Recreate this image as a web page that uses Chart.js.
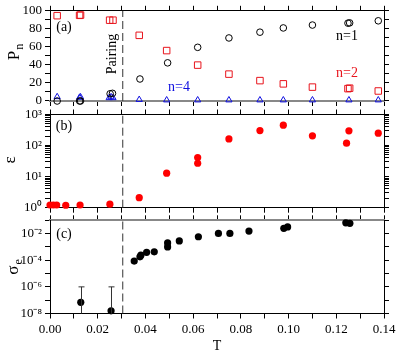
<!DOCTYPE html>
<html>
<head>
<meta charset="utf-8">
<script src="https://cdn.jsdelivr.net/npm/chart.js@4/dist/chart.umd.min.js"></script>
<style>
  body { margin: 0; background: #fff; }
  #wrap { position: relative; width: 399px; height: 355px; }
  canvas { position: absolute; left: 0; top: 0; }
</style>
</head>
<body>
<div id="wrap">
  <canvas id="pa" width="399" height="355"></canvas>
  <canvas id="pb" width="399" height="355"></canvas>
  <canvas id="pc" width="399" height="355"></canvas>
</div>
<script>
// ---- data ----
// panel (a): P_n vs T
const tN1 = [0.003, 0.0124, 0.0128, 0.0252, 0.0262, 0.0377, 0.0493, 0.0619, 0.075, 0.088, 0.0978, 0.110, 0.1249, 0.1256, 0.1376];
const pN1 = [0, 0, 0, 8, 8.5, 24.4, 42.3, 59.5, 69.9, 76.3, 81, 84.2, 86.3, 86.6, 88.9];
const tN2 = [0.003, 0.0124, 0.0128, 0.025, 0.0264, 0.0374, 0.0489, 0.0619, 0.075, 0.088, 0.0978, 0.110, 0.1249, 0.1256, 0.1376];
const pN2 = [94.6, 95, 95.3, 89.6, 89.6, 72.8, 55.9, 39.8, 29.8, 22.6, 19, 15.4, 13.7, 14.2, 11.1];
const tN4 = [0.003, 0.0124, 0.0128, 0.0248, 0.0256, 0.0264, 0.0374, 0.0489, 0.0619, 0.075, 0.088, 0.0978, 0.110, 0.1253, 0.1376];
const pN4 = [4.6, 4.0, 4.4, 3.5, 4.5, 3.5, 1.5, 1, 1, 1, 1, 1, 1, 1, 1];

// panel (b): epsilon vs T
const tEps = [0, 0.0014, 0.0028, 0.0066, 0.0126, 0.0251, 0.0374, 0.0489, 0.0619, 0.0619, 0.075, 0.088, 0.0978, 0.110, 0.1243, 0.1253, 0.1376];
const eps = [1.22, 1.22, 1.22, 1.2, 1.22, 1.3, 2.1, 12.9, 41, 27, 164, 304, 454, 206, 119, 298, 251];

// panel (c): sigma_e vs T, plus error bars on the two low-T points
const tSig = [0.0129, 0.0256, 0.0353, 0.0377, 0.0381, 0.0405, 0.0437, 0.0493, 0.0493, 0.0542, 0.0622, 0.0706, 0.0754, 0.0834, 0.098, 0.0996, 0.124, 0.1257];
const sig = [6.9e-8, 1.6e-8, 8.7e-5, 1.8e-4, 2.4e-4, 3.9e-4, 4.3e-4, 2.0e-3, 1.0e-3, 2.8e-3, 5.8e-3, 1.04e-2, 1.04e-2, 1.55e-2, 2.5e-2, 3.2e-2, 6.5e-2, 5.9e-2];
const errT = [0.0129, 0.0256];
const errHi = [1e-6, 1e-6];
const errLo = [1e-9, 1e-9];

// pairing temperature (dashed line)
const tPair = 0.0305;

// tick values
const xTicks = [0, 1, 2, 3, 4, 5, 6, 7, 8, 9, 10, 11, 12, 13, 14].map(i => i / 100);
const pTicks = [0, 10, 20, 30, 40, 50, 60, 70, 80, 90, 100];
const epsTicks = [];
[1, 10, 100].forEach(d => { for (let m = 1; m < 10; m++) epsTicks.push(m * d); });
epsTicks.push(1000);
const sigTicks = [-8, -7, -6, -5, -4, -3, -2, -1].map(e => Math.pow(10, e));

const supers = { '-': '\u207B', '0': '\u2070', '1': '\u00B9', '2': '\u00B2', '3': '\u00B3', '4': '\u2074', '5': '\u2075', '6': '\u2076', '7': '\u2077', '8': '\u2078', '9': '\u2079' };
const powLabel = e => '10' + String(e).split('').map(c => supers[c]).join('');

const serif = '"Liberation Serif", "Times New Roman", serif';
Chart.defaults.font.family = serif;
Chart.defaults.font.size = 13;
Chart.defaults.color = '#000';

const pts = (xs, ys) => xs.map((x, i) => ({ x: x, y: ys[i] }));
const fix = (w, h) => s => { if (w != null) s.width = w; if (h != null) s.height = h; };
const setTicks = vals => s => { s.ticks = vals.map(v => ({ value: v })); };

function baseScales(o) {
  const grid = { drawOnChartArea: false, drawTicks: true, tickLength: 5, color: '#000' };
  const xCommon = { type: 'linear', min: 0, max: 0.14, afterBuildTicks: setTicks(xTicks), grid: grid };
  const yCommon = { type: o.yType, min: o.yMin, max: o.yMax, afterBuildTicks: setTicks(o.yTicks), grid: grid };
  return {
    x: Object.assign({}, xCommon, {
      position: 'bottom',
      afterFit: fix(null, o.bottomH),
      border: o.bottomBorder || { color: '#000', width: 1 },
      ticks: {
        display: !!o.xLabels, autoSkip: false, maxRotation: 0, padding: 3,
        callback: v => (Math.round(v * 100) % 2 === 0 ? v.toFixed(2) : '')
      },
      title: o.xTitle ? { display: true, text: 'T', font: { size: 14 }, padding: { top: 0, bottom: 0 } } : { display: false }
    }),
    x2: Object.assign({}, xCommon, {
      position: 'top',
      afterFit: fix(null, 8),
      border: o.topBorder || { color: '#000', width: 1 },
      ticks: { display: false, autoSkip: false }
    }),
    y: Object.assign({}, yCommon, {
      position: 'left',
      afterFit: fix(50, null),
      border: { color: '#000', width: 1 },
      ticks: { autoSkip: false, padding: 3, callback: o.yLabel }
    }),
    y2: Object.assign({}, yCommon, {
      position: 'right',
      afterFit: fix(15, null),
      border: { color: '#000', width: 1 },
      ticks: { display: false, autoSkip: false }
    })
  };
}

function pairLine(yMin, yMax) {
  return {
    type: 'line', data: [{ x: tPair, y: yMin }, { x: tPair, y: yMax }],
    borderColor: '#333', borderWidth: 1, borderDash: [8, 4], pointRadius: 0, clip: false
  };
}

// text drawn on top of each panel
function textPlugin(items) {
  return {
    id: 'txt',
    afterDraw(chart) {
      const ctx = chart.ctx;
      items.forEach(it => {
        ctx.save();
        ctx.fillStyle = it.color || '#000';
        ctx.translate(it.x, it.y);
        if (it.rot) ctx.rotate(it.rot);
        ctx.font = (it.size || 14) + 'px ' + serif;
        ctx.textBaseline = it.base || 'middle';
        if (it.sub) {
          ctx.textAlign = 'left';
          const w1 = ctx.measureText(it.text).width;
          ctx.font = (it.subSize || 12) + 'px ' + serif;
          const w2 = ctx.measureText(it.sub).width;
          const x0 = -(w1 + w2 + 1) / 2;
          ctx.font = (it.size || 14) + 'px ' + serif;
          ctx.fillText(it.text, x0, 0);
          ctx.font = (it.subSize || 12) + 'px ' + serif;
          ctx.fillText(it.sub, x0 + w1 + 1, it.subDy || 4);
        } else {
          ctx.textAlign = 'center';
          ctx.fillText(it.text, 0, 0);
        }
        ctx.restore();
      });
    }
  };
}

const common = { responsive: false, animation: false, events: [], plugins: { legend: { display: false }, tooltip: { enabled: false } } };

// ---- panel (a) ----
new Chart(document.getElementById('pa'), {
  type: 'scatter',
  data: {
    datasets: [
      pairLine(0, 100),
      { data: pts(tN2, pN2), pointStyle: 'rect', pointRadius: 4.6, borderColor: '#e8141c', backgroundColor: 'transparent', borderWidth: 1, clip: false },
      { data: pts(tN1, pN1), pointStyle: 'circle', pointRadius: 3.3, borderColor: '#000', backgroundColor: 'transparent', borderWidth: 1, clip: false },
      { data: pts(tN4, pN4), pointStyle: 'triangle', pointRadius: 3.6, borderColor: '#1010e0', backgroundColor: 'transparent', borderWidth: 1, clip: false }
    ]
  },
  options: Object.assign({}, common, {
    layout: { padding: { top: 0, bottom: 246, left: 0, right: 0 } },
    scales: baseScales({
      yType: 'linear', yMin: 0, yMax: 100, yTicks: pTicks,
      yLabel: v => (v % 20 === 0 ? String(v) : ''),
      bottomH: 8, bottomBorder: { color: '#888', width: 2 }
    })
  }),
  plugins: [textPlugin([
    { text: '(a)', x: 64, y: 27 },
    { text: 'n=1', x: 347, y: 36 },
    { text: 'n=2', x: 347, y: 73, color: '#e8141c' },
    { text: 'n=4', x: 179, y: 87, color: '#1010e0' },
    { text: 'Pairing', x: 112, y: 54, rot: -Math.PI / 2 },
    { text: 'P', sub: 'n', x: 19, y: 52, rot: -Math.PI / 2, size: 17, subSize: 12, base: 'alphabetic', subDy: 4 }
  ])]
});

// ---- panel (b) ----
new Chart(document.getElementById('pb'), {
  type: 'scatter',
  data: {
    datasets: [
      pairLine(1, 1000),
      { data: pts(tEps, eps), pointStyle: 'circle', pointRadius: 3.6, borderColor: '#f00', backgroundColor: '#f00', borderWidth: 0, clip: false }
    ]
  },
  options: Object.assign({}, common, {
    layout: { padding: { top: 106.5, bottom: 139.3, left: 0, right: 0 } },
    scales: baseScales({
      yType: 'logarithmic', yMin: 1, yMax: 1000, yTicks: epsTicks,
      yLabel: v => { const e = Math.log10(v); return Math.abs(e - Math.round(e)) < 1e-6 ? powLabel(Math.round(e)) : ''; },
      bottomH: 8
    })
  }),
  plugins: [textPlugin([
    { text: '(b)', x: 64, y: 126 },
    { text: '\u03B5', x: 15, y: 160, rot: -Math.PI / 2, size: 17, base: 'alphabetic' }
  ])]
});

// ---- panel (c) ----
const errorBars = {
  id: 'errbars',
  afterDatasetsDraw(chart) {
    const ctx = chart.ctx, xs = chart.scales.x, ys = chart.scales.y;
    ctx.save();
    ctx.strokeStyle = '#333';
    ctx.lineWidth = 1;
    errT.forEach((t, i) => {
      const px = Math.round(xs.getPixelForValue(t)) + 0.5;
      const top = ys.getPixelForValue(errHi[i]);
      const bot = ys.getPixelForValue(Math.max(errLo[i], ys.min));
      ctx.beginPath();
      ctx.moveTo(px, top); ctx.lineTo(px, bot);
      ctx.moveTo(px - 3, top); ctx.lineTo(px + 3, top);
      ctx.stroke();
    });
    ctx.restore();
  }
};

new Chart(document.getElementById('pc'), {
  type: 'scatter',
  data: {
    datasets: [
      pairLine(1e-8, 1e-1),
      { data: pts(tSig, sig), pointStyle: 'circle', pointRadius: 3.6, borderColor: '#000', backgroundColor: '#000', borderWidth: 0, clip: false }
    ]
  },
  options: Object.assign({}, common, {
    layout: { padding: { top: 212.3, bottom: 0, left: 0, right: 0 } },
    scales: baseScales({
      yType: 'logarithmic', yMin: 1e-8, yMax: 1e-1, yTicks: sigTicks,
      yLabel: v => { const e = Math.round(Math.log10(v)); return e % 2 === 0 ? powLabel(e) : ''; },
      bottomH: 41.5, xLabels: true, xTitle: true,
      topBorder: { color: '#888', width: 2 }
    })
  }),
  plugins: [errorBars, textPlugin([
    { text: '(c)', x: 64, y: 234 },
    { text: '\u03C3', sub: 'e', x: 18, y: 267, rot: -Math.PI / 2, size: 17, subSize: 12, base: 'alphabetic', subDy: 4 }
  ])]
});
</script>
</body>
</html>
